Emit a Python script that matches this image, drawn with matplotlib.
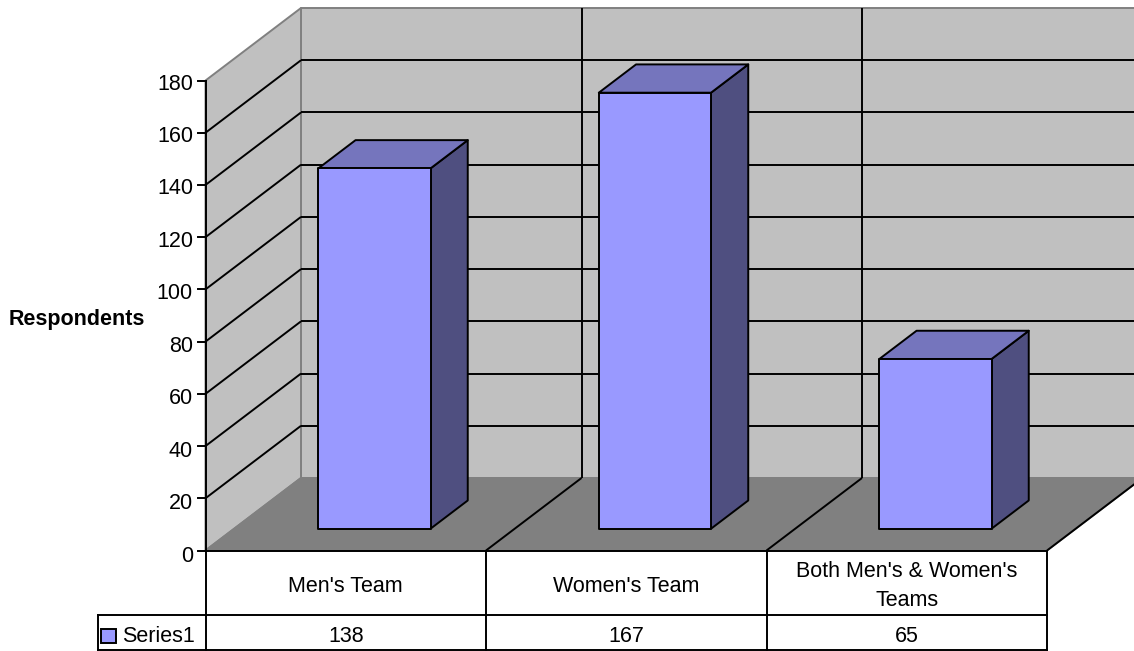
import matplotlib
matplotlib.use("Agg")
import matplotlib.pyplot as plt
from matplotlib.patches import Polygon

plt.rcParams["font.family"] = ["Liberation Sans", "DejaVu Sans"]

# Chart data
categories = ["Men's Team", "Women's Team", "Both Men's & Women's\nTeams"]
values = [138, 167, 65]
series_name = "Series1"
y_ticks = [0, 20, 40, 60, 80, 100, 120, 140, 160, 180]
y_label = "Respondents"

# Layout of the fake 3D box, in pixels
X0 = 205.5
Y0 = 550.5
SLOT_W = 280.5
Y_SCALE = 470 / 180
DEPTH_X = 95.5
DEPTH_Y = 72.5
BAR_W = 0.4
BAR_D0 = 0.30
BAR_D1 = 0.69
ROW1_Y = 615
ROW2_Y = 650
LEGEND_X = 97.5

WALL = "#C0C0C0"
FLOOR = "#808080"
FRONT = "#9999FF"
TOP = "#7575BD"
SIDE = "#4F4F80"
FONT = 15.5
LW = 1.4


def project(cat, val, depth):
    """cat is in category slots, val in data units, depth 0 (front) to 1 (back)."""
    return (X0 + cat * SLOT_W + depth * DEPTH_X,
            Y0 - val * Y_SCALE - depth * DEPTH_Y)


def face(ax, pts, color, edge="black", z=2):
    ax.add_patch(Polygon([project(*p) for p in pts], closed=True, facecolor=color,
                         edgecolor=edge, linewidth=LW, joinstyle="round", zorder=z))


def line(ax, a, b, color="black", z=3):
    pa, pb = project(*a), project(*b)
    ax.plot([pa[0], pb[0]], [pa[1], pb[1]], color=color, lw=LW, zorder=z,
            solid_capstyle="butt")


fig = plt.figure(figsize=(11.34, 6.51), dpi=100)
ax = fig.add_axes([0, 0, 1, 1])
ax.set_xlim(0, 1134)
ax.set_ylim(651, 0)
ax.axis("off")

n = len(categories)
top = y_ticks[-1]

# walls and floor
face(ax, [(0, 0, 1), (n, 0, 1), (n, top, 1), (0, top, 1)], WALL, FLOOR, 1)
face(ax, [(0, 0, 0), (0, 0, 1), (0, top, 1), (0, top, 0)], WALL, FLOOR, 1)
face(ax, [(0, 0, 0), (n, 0, 0), (n, 0, 1), (0, 0, 1)], FLOOR, FLOOR, 1)

# gridlines
for t in y_ticks[1:-1]:
    line(ax, (0, t, 0), (0, t, 1), z=1.5)
    line(ax, (0, t, 1), (n, t, 1), z=1.5)
for c in range(1, n):
    line(ax, (c, 0, 1), (c, top, 1), z=1.5)
    line(ax, (c, 0, 0), (c, 0, 1), z=1.5)
line(ax, (n, 0, 0), (n, 0, 1), z=1.5)

# bars
for i, v in enumerate(values):
    x0 = i + 0.5 - BAR_W / 2
    x1 = i + 0.5 + BAR_W / 2
    face(ax, [(x1, 0, BAR_D0), (x1, 0, BAR_D1), (x1, v, BAR_D1), (x1, v, BAR_D0)], SIDE)
    face(ax, [(x0, v, BAR_D0), (x1, v, BAR_D0), (x1, v, BAR_D1), (x0, v, BAR_D1)], TOP)
    face(ax, [(x0, 0, BAR_D0), (x1, 0, BAR_D0), (x1, v, BAR_D0), (x0, v, BAR_D0)], FRONT)

# value axis
ax.plot([X0, X0], [project(0, top, 0)[1], ROW2_Y], color="black", lw=LW, zorder=4)
for t in y_ticks:
    y = project(0, t, 0)[1]
    ax.plot([X0 - 8, X0], [y, y], color="black", lw=LW, zorder=4)
    # labels sit a little lower than the tick, more so near the bottom
    ax.text(X0 - 12.5, y + 3 - 2 * t / top, str(t), ha="right", va="center_baseline",
            fontsize=FONT)
ax.text(9, 319, y_label, ha="left", va="center", fontsize=FONT, fontweight="bold")

# data table
right = project(n, 0, 0)[0]
ax.plot([X0, right], [Y0, Y0], color="black", lw=LW, zorder=4)
ax.plot([LEGEND_X, right], [ROW1_Y, ROW1_Y], color="black", lw=LW, zorder=4)
ax.plot([LEGEND_X, right], [ROW2_Y, ROW2_Y], color="black", lw=LW, zorder=4)
ax.plot([LEGEND_X, LEGEND_X], [ROW1_Y, ROW2_Y], color="black", lw=LW, zorder=4)
for c in range(1, n + 1):
    xc = project(c, 0, 0)[0]
    ax.plot([xc, xc], [Y0, ROW2_Y], color="black", lw=LW, zorder=4)
for i, (name, v) in enumerate(zip(categories, values)):
    xc = project(i + 0.5, 0, 0)[0]
    ax.text(xc, 586, name, ha="center", va="center", fontsize=FONT, linespacing=1.5)
    ax.text(xc, 636.5, str(v), ha="center", va="center", fontsize=FONT)

# legend key in the table
ax.add_patch(plt.Rectangle((101, 629), 15, 14, facecolor=FRONT, edgecolor="black",
                           linewidth=LW, zorder=4))
ax.text(122, 637, series_name, ha="left", va="center", fontsize=FONT)

fig.savefig("out.png", dpi=100)
